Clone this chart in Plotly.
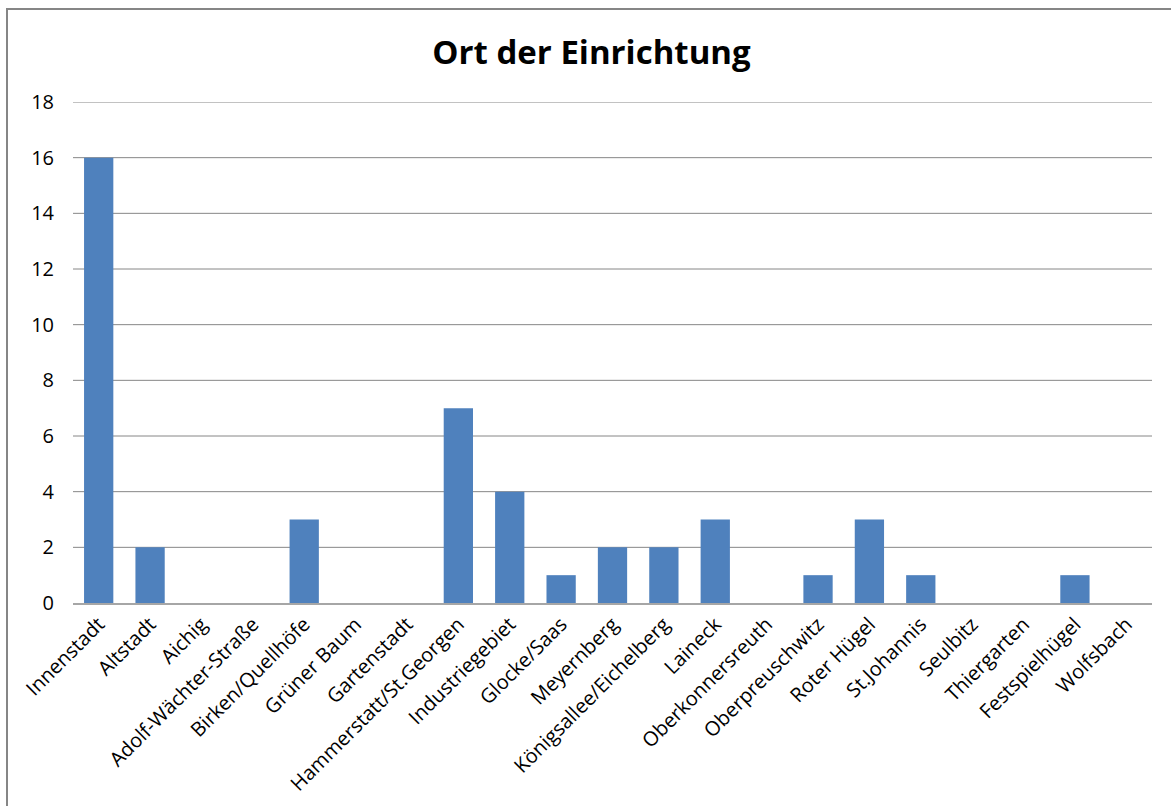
import plotly.graph_objects as go

categories = ["Innenstadt", "Altstadt", "Aichig", "Adolf-Wächter-Straße", "Birken/Quellhöfe",
              "Grüner Baum", "Gartenstadt", "Hammerstatt/St.Georgen", "Industriegebiet",
              "Glocke/Saas", "Meyernberg", "Königsallee/Eichelberg", "Laineck",
              "Oberkonnersreuth", "Oberpreuschwitz", "Roter Hügel", "St.Johannis",
              "Seulbitz", "Thiergarten", "Festspielhügel", "Wolfsbach"]
values = [16, 2, 0, 0, 3, 0, 0, 7, 4, 1, 2, 2, 3, 0, 1, 3, 1, 0, 0, 1, 0]
y_ticks = [0, 2, 4, 6, 8, 10, 12, 14, 16, 18]
title_text = "Ort der Einrichtung"

W, H = 1171, 806
# plot area in screen pixels: x 73..1152, y 102..603
L, T = 73, 102
R = W - 1152
B = H - 603
pw, ph = W - L - R, H - T - B

def px_x(px):
    return (px - L) / pw

def px_y(py):
    return (H - B - py) / ph

fig = go.Figure(go.Bar(x=categories, y=values, marker=dict(color="#4F81BD", line=dict(width=0))))

grid_shapes = [dict(type="line", xref="paper", yref="y", x0=0, x1=1, y0=v, y1=v,
                    line=dict(color="#868686", width=1), layer="below")
               for v in y_ticks if v > 0]

fig.update_layout(
    width=W, height=H,
    margin=dict(l=L, r=R, t=T, b=B),
    paper_bgcolor="white", plot_bgcolor="white",
    bargap=0.43,
    showlegend=False,
    font=dict(family="Open Sans", color="#000000"),
    title=dict(text="<b>" + title_text + "</b>", x=591.5 / W, xanchor="center",
               y=1 - 52 / H, yanchor="middle", font=dict(size=33, family="Open Sans")),
    xaxis=dict(tickangle=-45, tickfont=dict(size=20), showgrid=False, showline=True,
               linecolor="#A6A6A6", linewidth=1.5, ticks="", automargin=False),
    yaxis=dict(range=[0, 18], tickvals=y_ticks, showgrid=False, zeroline=False,
               showline=False, tickfont=dict(size=20),
               ticks="", ticklabelstandoff=18, automargin=False),
    shapes=grid_shapes + [dict(type="rect", xref="paper", yref="paper",
                 x0=px_x(7), x1=px_x(1200), y0=px_y(840), y1=px_y(9),
                 line=dict(color="#868686", width=2), fillcolor="rgba(0,0,0,0)", layer="below")],
)

fig.write_html("out.html", config={"displayModeBar": False},
               post_script="document.body.style.margin='0';document.body.style.overflow='hidden';")
